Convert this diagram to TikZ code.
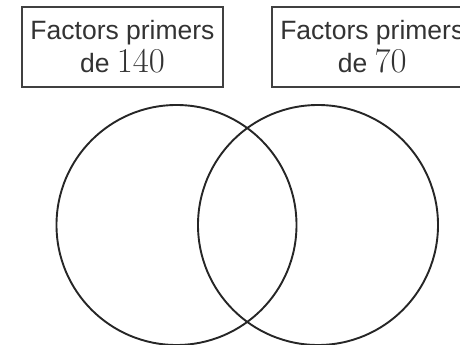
\documentclass[tikz,border=0pt]{standalone}
\usepackage{graphicx}
\usepackage{fontspec}
\setmainfont{Liberation Sans}
\usetikzlibrary{positioning}
\newcommand{\bignum}[1]{\scalebox{1.4}{$#1$}}

\begin{document}
\begin{tikzpicture}[x=1pt, y=1pt]
\useasboundingbox (0,0) rectangle (460,345);
\tikzset{label box/.style={draw=black!75, line width=1.8pt, text=black!80, minimum width=201pt, minimum height=80pt, align=center, inner sep=0pt, font=\fontsize{26.5}{33}\selectfont}}
\node[label box] (f140) at (122.5,298) {Factors primers\\de \bignum{140}};
\node[label box, right=47pt of f140] (f70) {Factors primers\\de \bignum{70}};
\foreach \x in {176.5,318}
 \draw[black!85, line width=1.9pt] (\x,120) circle (120pt);
\end{tikzpicture}
\end{document}
